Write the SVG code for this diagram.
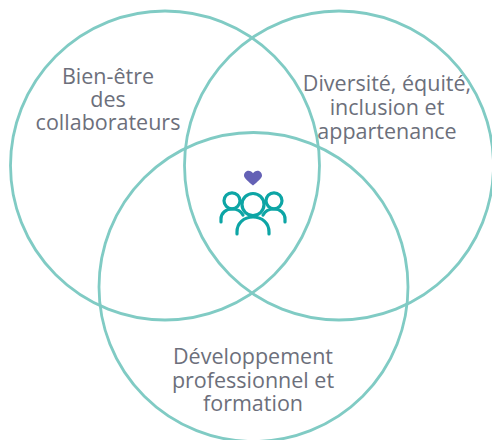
<svg xmlns="http://www.w3.org/2000/svg" width="492" height="440" viewBox="0 0 492 440">
<style>
.c{fill:none;stroke:#80cbc4;stroke-width:2.800}
.t{font-family:"Open Sans","Noto Sans",sans-serif;font-size:21.500px;fill:#6c6f7b;text-anchor:middle}
.p{fill:none;stroke:#0da5a5;stroke-width:3.200;stroke-linecap:round}
</style>
<g id="connectors"></g>
<g id="circle-bien-etre"><circle class="c" cx="165" cy="165.500" r="154.500"/>
<text class="t" x="108" y="84">Bien-être</text><text class="t" x="108" y="107">des</text><text class="t" x="108" y="130">collaborateurs</text></g>
<g id="circle-diversite"><circle class="c" cx="339" cy="165.500" r="154.500"/>
<text class="t" x="387" y="91">Diversité, équité,</text><text class="t" x="387" y="115">inclusion et</text><text class="t" x="387" y="139">appartenance</text></g>
<g id="circle-developpement"><circle class="c" cx="253.500" cy="287" r="154.500"/>
<text class="t" x="253" y="364">Développement</text><text class="t" x="253" y="388">professionnel et</text><text class="t" x="253" y="411">formation</text></g>
<g id="icon">
<path fill="#6461b5" d="M253 185.500C249 182 244 178.500 244 175.500C244 172.500 246.500 170.800 248.500 170.800C250.500 170.800 252 171.800 253 173.300C254 171.800 255.500 170.800 257.500 170.800C259.500 170.800 262 172.500 262 175.500C262 178.500 257 182 253 185.500Z"/>
<circle class="p" cx="232" cy="200.800" r="8"/><circle class="p" cx="253" cy="204.500" r="11"/><circle class="p" cx="274" cy="200.800" r="8"/>
<path class="p" d="M221 222V219C221 213 226 209 232 209C237 209 241 211 243 215"/>
<path class="p" d="M285 222V219C285 213 280 209 274 209C269 209 265 211 263 215"/>
<path class="p" d="M237 234V232C237 223 244 217 253 217C262 217 269 223 269 232V234"/>
</g>
</svg>
